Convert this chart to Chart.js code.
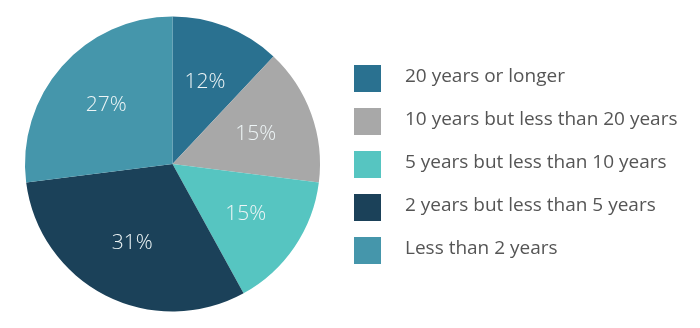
<!DOCTYPE html>
<html>
<head>
<meta charset="utf-8">
<script src="https://cdn.jsdelivr.net/npm/chart.js@4"></script>
<style>
  html, body { margin: 0; padding: 0; background: #fff; }
  #wrap { position: relative; width: 700px; height: 328px; }
</style>
</head>
<body>
<div id="wrap"><canvas id="myChart" width="700" height="328"></canvas></div>
<script>
const categories = [
  "20 years or longer",
  "10 years but less than 20 years",
  "5 years but less than 10 years",
  "2 years but less than 5 years",
  "Less than 2 years"
];
const shares = [12, 15, 15, 31, 27];
const colors = ["#2a7190", "#a8a8a8", "#56c5c1", "#1b4159", "#4596ab"];

// percent labels inside the slices
const sliceLabels = {
  id: "sliceLabels",
  afterDatasetsDraw(chart) {
    const ctx = chart.ctx;
    const meta = chart.getDatasetMeta(0);
    ctx.save();
    ctx.fillStyle = "#eef5f6";
    ctx.font = "300 21px 'Open Sans'";
    ctx.textAlign = "center";
    ctx.textBaseline = "middle";
    meta.data.forEach((arc, i) => {
      const mid = (arc.startAngle + arc.endAngle) / 2;
      const r = arc.outerRadius * 0.6;
      ctx.fillText(shares[i] + "%", arc.x + Math.cos(mid) * r, arc.y + Math.sin(mid) * r);
    });
    ctx.restore();
  }
};

// legend drawn to the right of the pie
const sideLegend = {
  id: "sideLegend",
  afterDraw(chart) {
    const ctx = chart.ctx;
    ctx.save();
    ctx.font = "19px 'Open Sans'";
    ctx.textBaseline = "middle";
    categories.forEach((name, i) => {
      const y = 65 + i * 43;
      ctx.fillStyle = colors[i];
      ctx.fillRect(354, y, 27, 27);
      ctx.fillStyle = "#555555";
      ctx.fillText(name, 405, y + 12);
    });
    ctx.restore();
  }
};

const ctx = document.getElementById("myChart").getContext("2d");
new Chart(ctx, {
  type: "pie",
  data: {
    labels: categories,
    datasets: [{
      data: shares,
      backgroundColor: colors,
      borderWidth: 0
    }]
  },
  options: {
    responsive: false,
    animation: false,
    layout: { padding: { left: 25, right: 380, top: 16, bottom: 16 } },
    plugins: {
      legend: { display: false },
      tooltip: { enabled: false }
    }
  },
  plugins: [sliceLabels, sideLegend]
});
</script>
</body>
</html>
